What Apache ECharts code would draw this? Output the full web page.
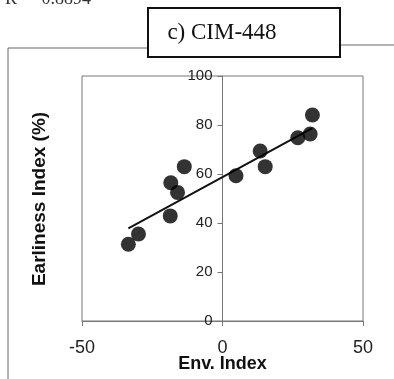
<!DOCTYPE html>
<html><head><meta charset="utf-8">
<script src="https://cdn.jsdelivr.net/npm/echarts@6/dist/echarts.min.js"></script>
<style>html,body{margin:0;padding:0;background:#fff}#c{width:394px;height:379px}</style>
</head><body><div id="c"></div>
<script>
// Data
const envIndex = [-33.5, -29.9, -18.6, -18.4, -16.0, -13.6, 4.8, 13.4, 15.2, 26.8, 31.2, 32.0];
const earliness = [31.3, 35.5, 42.9, 56.4, 52.5, 63.0, 59.3, 69.4, 63.0, 74.8, 76.3, 84.1];
const trendX = [-33.5, 32.0];
const trendY = [37.8, 78.7];
const xTicks = [-50, 0, 50];
const yTicks = [0, 20, 40, 60, 80, 100];
const titleText = 'c) CIM-448';
const r2Text = 'R\u00B2 = 0.8894';
const xName = 'Env. Index';
const yName = 'Earliness Index (%)';

const chart = echarts.init(document.getElementById('c'), null, {renderer: 'canvas'});
const pts = envIndex.map((x, i) => [x, earliness[i]]);
const trend = trendX.map((x, i) => [x, trendY[i]]);
const axisCol = '#777';
const gridLeft = 82, gridRight = 31;
const plotW = 394 - gridLeft - gridRight;
const xMin = xTicks[0], xMax = xTicks[xTicks.length - 1];
const zeroOffset = -plotW * (0 - xMin) / (xMax - xMin);
chart.setOption({
  animation: false,
  backgroundColor: '#fff',
  grid: {left: gridLeft, right: gridRight, top: 76, bottom: 58, show: true, borderColor: axisCol, borderWidth: 1,
         containLabel: false, outerBoundsMode: 'none'},
  xAxis: {
    type: 'value', min: xMin, max: xMax, interval: 50,
    splitLine: {show: false},
    axisLine: {onZero: false, lineStyle: {color: axisCol, width: 1}},
    axisTick: {show: true, length: 5, lineStyle: {color: axisCol}},
    axisLabel: {color: '#222', fontSize: 18, fontFamily: 'Liberation Sans', margin: 18},
    name: xName, nameLocation: 'middle', nameGap: 34, nameMoveOverlap: false,
    nameTextStyle: {color: '#111', fontSize: 18, fontWeight: 'bold', fontFamily: 'Liberation Sans'}
  },
  yAxis: {
    type: 'value', min: yTicks[0], max: yTicks[yTicks.length - 1], interval: 20,
    position: 'left', offset: zeroOffset,
    splitLine: {show: false},
    axisLine: {onZero: false, lineStyle: {color: axisCol, width: 1}},
    axisTick: {show: true, length: 5, lineStyle: {color: axisCol}},
    axisLabel: {color: '#222', fontSize: 15, fontFamily: 'Liberation Sans', margin: 10}
  },
  graphic: [
    {type: 'polyline', shape: {points: [[8, 379], [8, 48], [148, 48]]}, style: {stroke: '#666', lineWidth: 1, fill: null}},
    {type: 'line', shape: {x1: 340, y1: 45, x2: 394, y2: 45}, style: {stroke: '#666', lineWidth: 1}},
    {type: 'rect', shape: {x: 148, y: 8, width: 192, height: 49}, style: {fill: '#fff', stroke: '#111', lineWidth: 2}},
    {type: 'text', x: 222, y: 33, style: {text: titleText, font: '23px "Liberation Serif"', fill: '#111', textAlign: 'center', textVerticalAlign: 'middle'}},
    {type: 'text', x: 5, y: -10, style: {text: r2Text, font: '18px "Liberation Serif"', fill: '#333', textAlign: 'left', textVerticalAlign: 'top'}},
    {type: 'text', x: 40, y: 199, rotation: Math.PI / 2, style: {text: yName, font: 'bold 19px "Liberation Sans"', fill: '#111', textAlign: 'center', textVerticalAlign: 'middle'}}
  ],
  series: [
    {type: 'line', data: trend, symbol: 'none', lineStyle: {color: '#111', width: 2}, z: 2},
    {type: 'scatter', data: pts, symbol: 'circle', symbolSize: 15, itemStyle: {color: '#000'}, z: 3}
  ]
});
</script></body></html>
